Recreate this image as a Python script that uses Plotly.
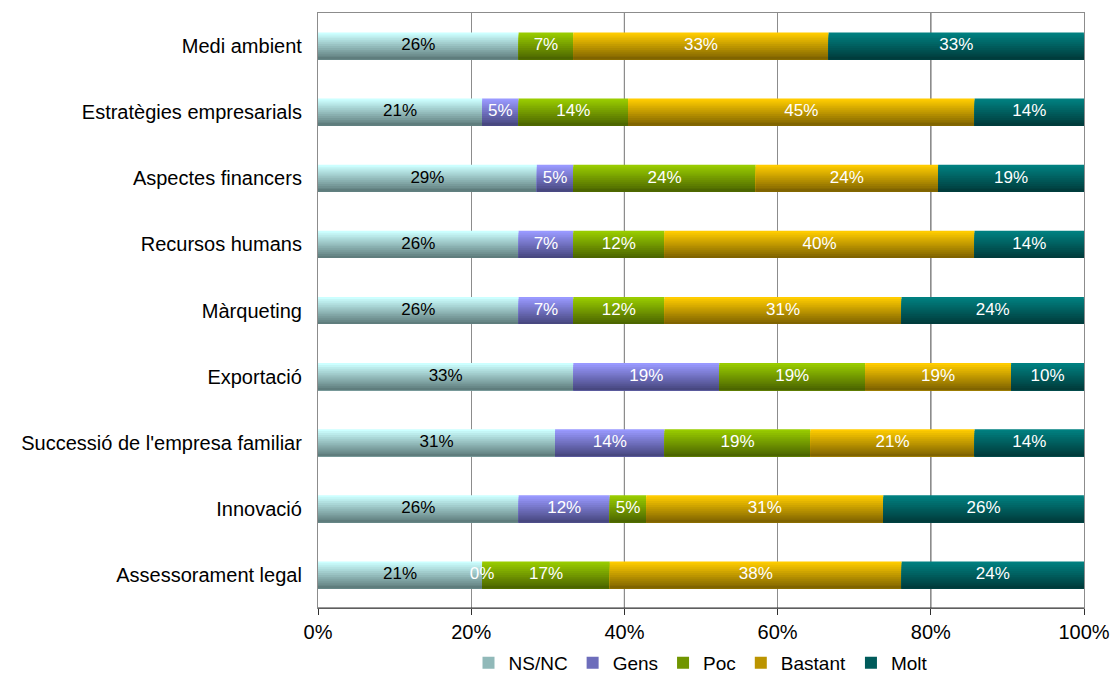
import plotly.graph_objects as go

categories = ["Medi ambient", "Estratègies empresarials", "Aspectes financers",
              "Recursos humans", "Màrqueting", "Exportació",
              "Successió de l'empresa familiar", "Innovació", "Assessorament legal"]
series_names = ["NS/NC", "Gens", "Poc", "Bastant", "Molt"]
ns_nc   = [26.19, 21.43, 28.57, 26.19, 26.19, 33.33, 30.95, 26.19, 21.43]
gens    = [None,  4.76,  4.76,  7.14,  7.14, 19.05, 14.29, 11.90,  0.0]
poc     = [7.14, 14.29, 23.81, 11.90, 11.90, 19.05, 19.05,  4.76, 16.67]
bastant = [33.33, 45.24, 23.81, 40.48, 30.95, 19.05, 21.43, 30.95, 38.10]
molt    = [33.33, 14.29, 19.05, 14.29, 23.81,  9.52, 14.29, 26.19, 23.81]
tick_vals = [0, 20, 40, 60, 80, 100]
tick_text = ["0%", "20%", "40%", "60%", "80%", "100%"]
dark_grid = [40, 80]

series = [ns_nc, gens, poc, bastant, molt]
top_colors = [(204, 255, 255), (153, 153, 255), (153, 204, 0), (255, 204, 0), (0, 128, 128)]
bot_colors = [(95, 125, 125), (72, 72, 128), (76, 102, 0), (128, 100, 0), (0, 60, 60)]
text_colors = ["black", "white", "white", "white", "white"]

FONT = "Liberation Sans, Arial, sans-serif"
W = 0.41
N = 14

fig = go.Figure()
base = [0.0] * len(categories)
for si, (name, vals) in enumerate(zip(series_names, series)):
    v = [0.0 if x is None else x for x in vals]
    tc, bc = top_colors[si], bot_colors[si]
    for k in range(N):
        t = k / (N - 1)
        col = "rgb(%d,%d,%d)" % tuple(round(tc[i] + (bc[i] - tc[i]) * t) for i in range(3))
        fig.add_trace(go.Bar(
            y=categories, x=v, base=base, orientation="h",
            width=W - k * W / N, offset=-W / 2 + k * W / N,
            marker=dict(color=col, line=dict(width=0)),
            name=name, legendgroup=name, showlegend=(k == N // 2),
            hoverinfo="skip",
        ))
    xs, ys, txt = [], [], []
    for ci, x in enumerate(vals):
        if x is None:
            continue
        xs.append(base[ci] + v[ci] / 2)
        ys.append(categories[ci])
        txt.append("%d%%" % round(x))
    fig.add_trace(go.Scatter(
        x=xs, y=ys, mode="text", text=txt,
        textfont=dict(family=FONT, size=17, color=text_colors[si]),
        showlegend=False, hoverinfo="skip", cliponaxis=False,
    ))
    base = [b + x for b, x in zip(base, v)]

fig.update_layout(
    barmode="overlay",
    width=1112, height=682,
    margin=dict(l=318, r=28, t=13, b=74, autoexpand=False),
    paper_bgcolor="white", plot_bgcolor="white",
    font=dict(family=FONT, size=20, color="black"),
    legend=dict(orientation="h", x=0.5, xanchor="center",
                yref="container", y=0.0, yanchor="bottom",
                font=dict(size=19), itemwidth=30, traceorder="normal",
                tracegroupgap=0),
    xaxis=dict(range=[0, 100], tickvals=tick_vals, ticktext=tick_text,
               showgrid=True, gridcolor="#8c8c8c", gridwidth=1,
               showline=True, linecolor="#8c8c8c", mirror=True,
               ticks="outside", ticklen=6, tickcolor="#303030",
               tickfont=dict(size=20), zeroline=False, fixedrange=True),
    yaxis=dict(autorange="reversed", showgrid=False, showline=True,
               linecolor="#8c8c8c", mirror=True, ticks="",
               tickfont=dict(size=20), ticksuffix="  ", fixedrange=True),
)
for gx in dark_grid:
    fig.add_vline(x=gx, line=dict(color="#101010", width=1), layer="below")
fig.add_shape(type="line", xref="paper", yref="paper", x0=0, x1=1, y0=0, y1=0,
              line=dict(color="#303030", width=1), layer="above")

fig.write_html("out.html")
